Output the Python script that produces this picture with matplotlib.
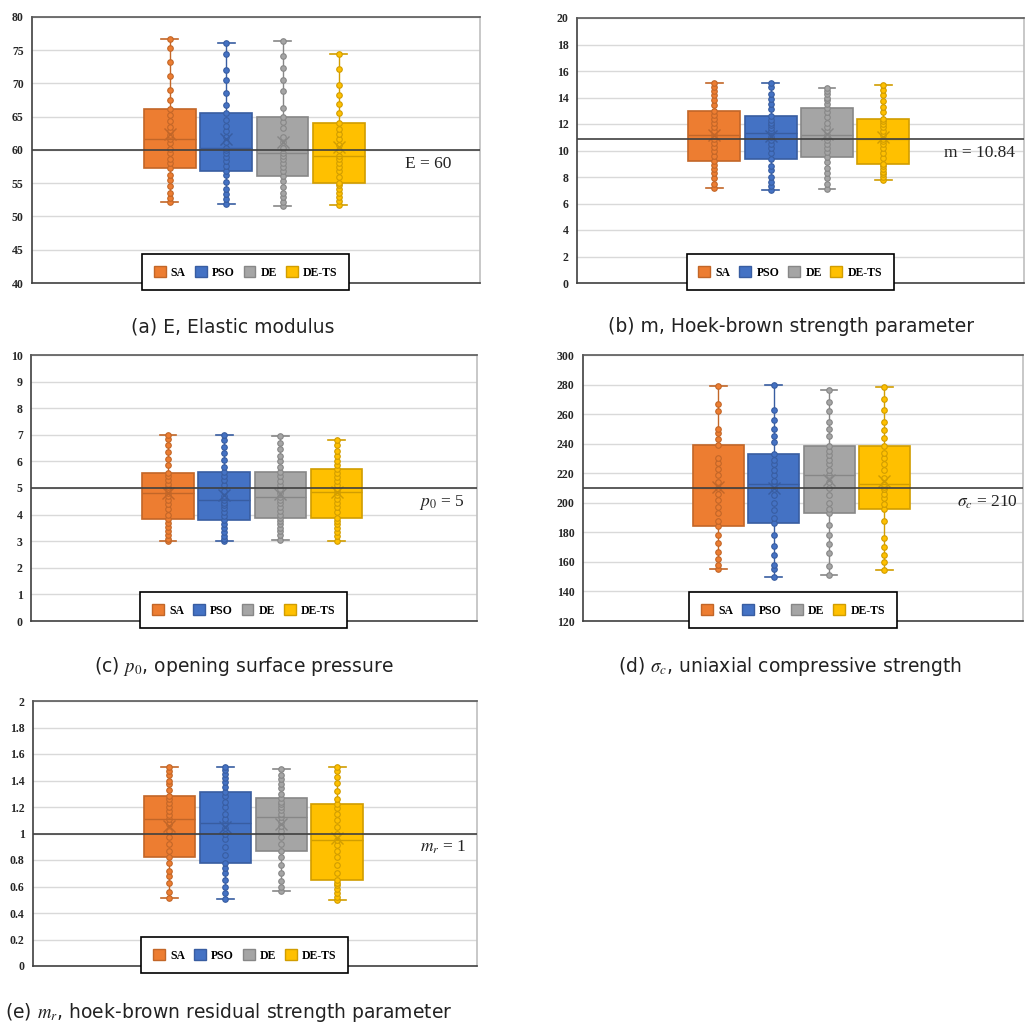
import numpy as np
import matplotlib.pyplot as plt
from matplotlib.patches import Patch
from matplotlib.colors import to_rgb
from matplotlib.ticker import MultipleLocator, FuncFormatter

plt.rcParams['mathtext.fontset'] = 'stix'

methods = ['SA', 'PSO', 'DE', 'DE-TS']
colors = ['#ED7D31', '#4472C4', '#A5A5A5', '#FFC000']

# (a) E, elastic modulus
E_SA = [52.2, 52.8, 53.6, 54.6, 55.5, 56.3, 57.3, 58.0, 58.7, 59.6, 60.2, 61.0, 61.6,
        62.2, 62.9, 63.5, 64.3, 65.2, 66.2, 67.5, 69.0, 71.1, 73.3, 75.4, 76.7]
E_PSO = [51.9, 52.6, 53.4, 54.2, 55.2, 56.2, 56.9, 57.6, 58.3, 58.9, 59.5, 60.0, 60.35,
         61.2, 62.0, 62.8, 63.6, 64.5, 65.5, 66.8, 68.5, 70.5, 72.0, 74.4, 76.1]
E_DE = [51.6, 52.2, 52.9, 53.6, 54.4, 55.3, 56.1, 56.8, 57.4, 58.0, 58.6, 59.1, 59.55,
        60.3, 61.2, 62.0, 63.3, 64.2, 64.9, 66.3, 68.8, 70.6, 72.4, 74.2, 76.4]
E_DETS = [51.7, 52.3, 53.0, 53.6, 54.2, 54.7, 55.1, 56.0, 56.8, 57.5, 58.0, 58.6, 59.15,
          60.0, 60.8, 61.6, 62.4, 63.2, 64.0, 65.5, 66.9, 68.3, 69.7, 72.2, 74.4]

# (b) m, Hoek-brown strength parameter
m_SA = [7.14, 7.5, 7.9, 8.3, 8.6, 8.9, 9.23, 9.6, 10.0, 10.3, 10.6, 10.9, 11.2,
        11.5, 11.8, 12.1, 12.4, 12.7, 13.0, 13.4, 13.8, 14.2, 14.5, 14.8, 15.08]
m_PSO = [7.0, 7.3, 7.6, 8.0, 8.5, 8.8, 9.33, 9.8, 10.2, 10.5, 10.8, 11.0, 11.3,
         11.5, 11.7, 11.9, 12.1, 12.3, 12.6, 13.1, 13.5, 13.9, 14.3, 14.8, 15.08]
m_DE = [7.1, 7.5, 7.9, 8.3, 8.7, 9.1, 9.53, 9.9, 10.2, 10.5, 10.8, 11.0, 11.2,
        11.5, 11.8, 12.1, 12.5, 12.9, 13.17, 13.5, 13.8, 14.0, 14.3, 14.5, 14.75]
m_DETS = [7.77, 8.0, 8.2, 8.4, 8.6, 8.8, 8.98, 9.4, 9.8, 10.2, 10.5, 10.7, 10.9,
          11.2, 11.5, 11.8, 12.0, 12.2, 12.4, 12.9, 13.3, 13.7, 14.2, 14.6, 14.96]

# (c) p0, opening surface pressure
p0_SA = [3.0, 3.1, 3.25, 3.4, 3.55, 3.7, 3.83, 4.0, 4.2, 4.4, 4.55, 4.7, 4.82,
         4.95, 5.05, 5.15, 5.3, 5.45, 5.56, 5.85, 6.1, 6.35, 6.6, 6.85, 7.0]
p0_PSO = [3.0, 3.1, 3.2, 3.35, 3.5, 3.65, 3.8, 3.95, 4.1, 4.25, 4.35, 4.45, 4.54,
          4.7, 4.9, 5.1, 5.3, 5.45, 5.6, 5.8, 6.05, 6.3, 6.55, 6.8, 7.0]
p0_DE = [3.05, 3.25, 3.4, 3.5, 3.65, 3.75, 3.86, 4.0, 4.15, 4.3, 4.45, 4.55, 4.65,
         4.8, 4.95, 5.1, 5.25, 5.45, 5.6, 5.8, 6.0, 6.2, 6.45, 6.7, 6.97]
p0_DETS = [3.0, 3.2, 3.35, 3.5, 3.65, 3.75, 3.89, 4.1, 4.3, 4.45, 4.6, 4.75, 4.86,
           4.98, 5.1, 5.25, 5.4, 5.55, 5.71, 5.85, 6.0, 6.2, 6.4, 6.6, 6.8]

# (d) sigma_c, uniaxial compressive strength
sc_SA = [155.5, 158, 162, 167, 173, 178, 184.2, 188, 193, 197, 202, 206, 210.1,
         214, 219, 223, 227, 230, 239.2, 243, 247, 250, 262, 267, 279.3]
sc_PSO = [149.8, 155, 158, 165, 171, 178, 186, 190, 195, 200, 205, 209, 212.4,
          215, 219, 222, 226, 229, 233.3, 241, 245, 250, 256, 263, 280]
sc_DE = [151.4, 157, 166, 172, 178, 185, 192.8, 196, 200, 205, 210, 214, 218.8,
         222, 226, 229, 232, 235, 238.3, 245, 250, 255, 262, 268, 276.3]
sc_DETS = [154.8, 160, 165, 170, 176, 188, 195.5, 199, 203, 206, 209, 211, 212.6,
           217, 222, 226, 230, 234, 238.3, 244, 249, 255, 263, 270, 278.2]

# (e) m_r, hoek-brown residual strength parameter
mr_SA = [0.515, 0.56, 0.63, 0.68, 0.72, 0.78, 0.826, 0.87, 0.92, 0.97, 1.02, 1.07, 1.109,
         1.14, 1.17, 1.2, 1.23, 1.26, 1.283, 1.33, 1.37, 1.4, 1.44, 1.47, 1.503]
mr_PSO = [0.505, 0.55, 0.6, 0.65, 0.7, 0.74, 0.78, 0.84, 0.9, 0.96, 1.0, 1.04, 1.076,
          1.11, 1.15, 1.2, 1.24, 1.28, 1.31, 1.35, 1.39, 1.42, 1.45, 1.48, 1.5]
mr_DE = [0.568, 0.6, 0.64, 0.7, 0.76, 0.82, 0.869, 0.92, 0.97, 1.02, 1.06, 1.09, 1.124,
         1.15, 1.18, 1.2, 1.22, 1.24, 1.265, 1.3, 1.34, 1.37, 1.41, 1.44, 1.49]
mr_DETS = [0.5, 0.52, 0.55, 0.58, 0.61, 0.63, 0.646, 0.7, 0.76, 0.82, 0.87, 0.91, 0.95,
           1.0, 1.05, 1.1, 1.15, 1.19, 1.222, 1.26, 1.32, 1.38, 1.43, 1.47, 1.5]

ref_values = [60, 10.84, 5, 210, 1]
ref_labels = ['E = 60', 'm = 10.84', r'$p_0$ = 5', r'$\sigma_c$ = 210', r'$m_r$ = 1']
captions = ['(a) E, Elastic modulus',
            '(b) m, Hoek-brown strength parameter',
            r'(c) $p_0$, opening surface pressure',
            r'(d) $\sigma_c$, uniaxial compressive strength',
            r'(e) $m_r$, hoek-brown residual strength parameter']
ylims = [(40, 80), (0, 20), (0, 10), (120, 300), (0, 2)]
ysteps = [5, 2, 1, 20, 0.2]
all_data = [[E_SA, E_PSO, E_DE, E_DETS],
            [m_SA, m_PSO, m_DE, m_DETS],
            [p0_SA, p0_PSO, p0_DE, p0_DETS],
            [sc_SA, sc_PSO, sc_DE, sc_DETS],
            [mr_SA, mr_PSO, mr_DE, mr_DETS]]

W, H = 1031, 1036
# axes rectangles in pixels: left, top, right, bottom
ax_px = [(32, 17, 480, 283), (577, 18, 1024, 283), (31, 355, 477, 621),
         (583, 355, 1023, 621), (33, 701, 477, 966)]
cap_px = [(233, 327, 'center'), (791, 327, 'center'), (244, 667, 'center'),
          (790, 667, 'center'), (5, 1012, 'left')]
label_xfrac = [0.884, 0.90, 0.92, 0.92, 0.923]


def darker(c, f=0.82):
    return tuple(v * f for v in to_rgb(c))


fig = plt.figure(figsize=(W / 100, H / 100), dpi=100)

for k in range(5):
    l, t, r, b = ax_px[k]
    ax = fig.add_axes([l / W, 1 - b / H, (r - l) / W, (b - t) / H])

    for i, vals in enumerate(all_data[k]):
        c = colors[i]
        dc = darker(c)
        bp = ax.boxplot([vals], positions=[i + 1], widths=0.92, whis=(0, 100),
                        patch_artist=True, showmeans=True, showfliers=False,
                        capwidths=0.3, zorder=2,
                        boxprops=dict(facecolor=c, edgecolor=dc, linewidth=1.2),
                        medianprops=dict(color=dc, linewidth=1.0),
                        whiskerprops=dict(color=dc, linewidth=1.0),
                        capprops=dict(color=dc, linewidth=1.2),
                        meanprops=dict(marker='x', markeredgecolor=dc,
                                       markersize=8, markeredgewidth=1.0))
        bp['means'][0].set_zorder(3.5)
        bp['medians'][0].set_zorder(3.4)
        ax.plot(np.full(len(vals), i + 1), vals, 'o', ms=4, mfc=c, mec=dc,
                mew=0.8, zorder=3)

    ax.axhline(ref_values[k], color='#404040', lw=1.2, zorder=4)
    ax.annotate(ref_labels[k], xy=(label_xfrac[k], ref_values[k]),
                xycoords=('axes fraction', 'data'), xytext=(0, -14),
                textcoords='offset pixels', ha='center', va='center',
                fontsize=12.5, family='Liberation Serif', color='#222222')

    ax.set_xlim(-1.44, 6.5)
    ax.set_ylim(*ylims[k])
    ax.yaxis.set_major_locator(MultipleLocator(ysteps[k]))
    ax.yaxis.set_major_formatter(FuncFormatter(lambda v, p: '%g' % round(v, 6)))
    ax.set_xticks([])
    ax.tick_params(axis='y', length=0, pad=6)
    for lab in ax.get_yticklabels():
        lab.set_fontfamily('Liberation Serif')
        lab.set_fontweight('bold')
        lab.set_fontsize(8.5)
        lab.set_color('#262626')
    ax.grid(axis='y', color='#d9d9d9', lw=1.0)
    ax.set_axisbelow(True)
    ax.spines['left'].set_color('#404040')
    ax.spines['bottom'].set_color('#404040')
    ax.spines['top'].set_color('#595959')
    ax.spines['right'].set_color('#bfbfbf')
    for s in ax.spines.values():
        s.set_linewidth(1.2)

    handles = [Patch(facecolor=c, edgecolor=darker(c)) for c in colors]
    leg = ax.legend(handles, methods, ncol=4, loc='center',
                    bbox_to_anchor=(0.477, 0.04), frameon=True, fancybox=False,
                    edgecolor='black', framealpha=1,
                    prop=dict(family='Liberation Serif', weight='bold', size=8.5),
                    handlelength=1.0, handleheight=1.0, columnspacing=0.75,
                    handletextpad=0.45, borderpad=1.0)
    leg.get_frame().set_linewidth(1.2)

    cx, cy, ha = cap_px[k]
    fig.text(cx / W, 1 - cy / H, captions[k], ha=ha, va='center',
             fontsize=13.5, color='#222222')

fig.savefig('out.png', dpi=100)
